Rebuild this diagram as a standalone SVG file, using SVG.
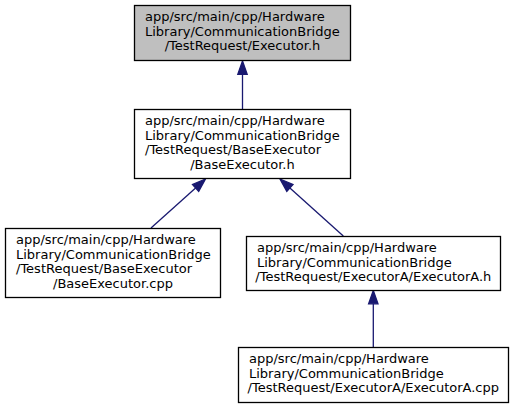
<svg xmlns="http://www.w3.org/2000/svg" width="514" height="408" viewBox="0 0 514 408">
<style>
.box{fill:#ffffff;stroke:#000000;stroke-width:1.3}
.root{fill:#bfbfbf}
text{font-family:"DejaVu Sans","Liberation Sans",sans-serif;font-size:13px;fill:#000000}
.e{stroke:#191970;stroke-width:1.3;fill:none}
.h{fill:#191970;stroke:#191970;stroke-width:1.3}
</style>
<rect width="514" height="408" fill="#ffffff"/>
<g id="edges">
<line class="e" x1="242.5" y1="109" x2="242.5" y2="74.3"/>
<polygon class="h" points="242.5,61 237.8,74.3 247.2,74.3"/>
<line class="e" x1="151" y1="228" x2="195.6" y2="187.9"/>
<polygon class="h" points="205.5,179 198.7,191.4 192.5,184.4"/>
<line class="e" x1="343.3" y1="236" x2="289.9" y2="187.9"/>
<polygon class="h" points="280,179 293,184.4 286.8,191.4"/>
<line class="e" x1="373.3" y1="347" x2="373.3" y2="303.8"/>
<polygon class="h" points="373.3,290.5 368.6,303.8 378,303.8"/>
</g>
<g id="node1">
<rect class="box root" x="134.5" y="5.5" width="216" height="55"/>
<text x="145" y="21">app/src/main/cpp/Hardware</text>
<text x="145" y="35.7">Library/CommunicationBridge</text>
<text x="242.5" y="50.3" text-anchor="middle">/TestRequest/Executor.h</text>
</g>
<g id="node2">
<rect class="box" x="134.5" y="109.5" width="216" height="69"/>
<text x="145" y="125">app/src/main/cpp/Hardware</text>
<text x="145" y="139.7">Library/CommunicationBridge</text>
<text x="145" y="154.3">/TestRequest/BaseExecutor</text>
<text x="242.5" y="169" text-anchor="middle">/BaseExecutor.h</text>
</g>
<g id="node3">
<rect class="box" x="5.5" y="228.5" width="215" height="69"/>
<text x="16" y="244">app/src/main/cpp/Hardware</text>
<text x="16" y="258.7">Library/CommunicationBridge</text>
<text x="16" y="273.3">/TestRequest/BaseExecutor</text>
<text x="113" y="288" text-anchor="middle">/BaseExecutor.cpp</text>
</g>
<g id="node4">
<rect class="box" x="246.5" y="236.5" width="254" height="54"/>
<text x="257" y="252">app/src/main/cpp/Hardware</text>
<text x="257" y="266.7">Library/CommunicationBridge</text>
<text x="373.3" y="281.3" text-anchor="middle">/TestRequest/ExecutorA/ExecutorA.h</text>
</g>
<g id="node5">
<rect class="box" x="238.5" y="347.5" width="270" height="55"/>
<text x="249" y="363">app/src/main/cpp/Hardware</text>
<text x="249" y="377.7">Library/CommunicationBridge</text>
<text x="373.3" y="392.3" text-anchor="middle">/TestRequest/ExecutorA/ExecutorA.cpp</text>
</g>
</svg>
